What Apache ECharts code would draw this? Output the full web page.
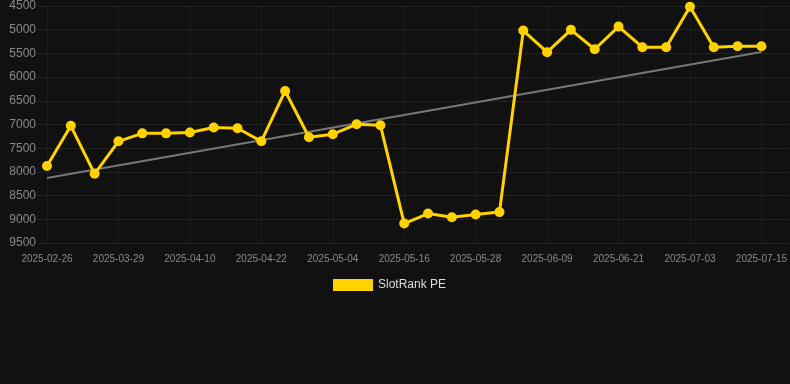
<!DOCTYPE html>
<html>
<head>
<meta charset="utf-8">
<style>
html,body{margin:0;padding:0;background:#111111;}
#c{width:790px;height:384px;}
</style>
<script src="https://cdn.jsdelivr.net/npm/echarts@6/dist/echarts.min.js"></script>
</head>
<body>
<div id="c"></div>
<script>
var categories = ['2025-02-26','2025-03-08','2025-03-18','2025-03-29','2025-04-02','2025-04-06','2025-04-10','2025-04-14','2025-04-18','2025-04-22','2025-04-26','2025-04-30','2025-05-04','2025-05-08','2025-05-12','2025-05-16','2025-05-20','2025-05-24','2025-05-28','2025-06-01','2025-06-05','2025-06-09','2025-06-13','2025-06-17','2025-06-21','2025-06-25','2025-06-29','2025-07-03','2025-07-07','2025-07-11','2025-07-15'];
var rankValues = [7876,7028,8040,7355,7187,7187,7170,7065,7080,7355,6292,7268,7205,6995,7015,9090,8878,8955,8898,8848,5018,5475,5003,5412,4935,5370,5370,4517,5370,5350,5350];
var trendValues = [8130,5470];
var yTicks = [4500,5000,5500,6000,6500,7000,7500,8000,8500,9000,9500];
var labelIdx = [0,3,6,9,12,15,18,21,24,27,30];

var lineData = rankValues.map(function(v,i){return [i,v];});
var trendData = [[0,trendValues[0]],[categories.length-1,trendValues[1]]];

var chart = echarts.init(document.getElementById('c'));
chart.setOption({
  backgroundColor:'#111111',
  animation:false,
  grid:{left:37,right:0,top:6,bottom:141,containLabel:false},
  legend:{
    data:['SlotRank PE'],
    top:274,left:328,
    itemWidth:40,itemHeight:12,itemGap:10,
    icon:'rect',
    textStyle:{color:'#dddddd',fontSize:12,fontFamily:'Arial, Liberation Sans, sans-serif'}
  },
  xAxis:{
    type:'value',
    min:-0.42,max:31.18,
    axisLine:{show:false},
    axisTick:{show:false,customValues:labelIdx},
    axisLabel:{
      customValues:labelIdx,
      color:'#8a8a8a',fontSize:10,margin:11,
      fontFamily:'Arial, Liberation Sans, sans-serif',
      formatter:function(v){return categories[Math.round(v)]||'';}
    },
    splitLine:{show:true,lineStyle:{color:'#1c1c1c',width:1}}
  },
  yAxis:{
    type:'value',inverse:true,
    min:yTicks[0],max:yTicks[yTicks.length-1],interval:500,
    axisLine:{show:false},axisTick:{show:false},
    axisLabel:{color:'#8a8a8a',fontSize:12,margin:1,fontFamily:'Arial, Liberation Sans, sans-serif',
      formatter:function(v){return String(v);}},
    splitLine:{show:true,lineStyle:{color:'#222222',width:1}}
  },
  series:[
    {
      name:'Trend',type:'line',data:trendData,
      symbol:'none',silent:true,
      lineStyle:{color:'#777777',width:2},
      z:2
    },
    {
      name:'SlotRank PE',type:'line',data:lineData,
      symbol:'circle',symbolSize:10,
      lineStyle:{color:'#FFD200',width:3},
      itemStyle:{color:'#FFD200'},
      z:3
    }
  ]
});
</script>
</body>
</html>
